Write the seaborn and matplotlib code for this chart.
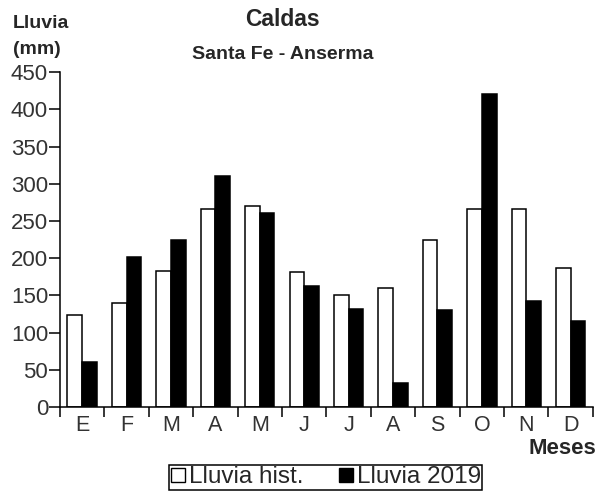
import pandas as pd
import seaborn as sns
import matplotlib.pyplot as plt
from matplotlib.lines import Line2D

# Datos (mm)
meses = ["Ene", "Feb", "Mar", "Abr", "May", "Jun", "Jul", "Ago", "Sep", "Oct", "Nov", "Dic"]
etiquetas = ["E", "F", "M", "A", "M", "J", "J", "A", "S", "O", "N", "D"]
lluvia_hist = [124, 140, 183, 266, 270, 181, 151, 160, 224, 266, 266, 187]
lluvia_2019 = [60, 202, 225, 310, 261, 162, 132, 32, 131, 420, 142, 115]
series = ["Lluvia hist.", "Lluvia 2019"]
y_ticks = [0, 50, 100, 150, 200, 250, 300, 350, 400, 450]


def main():
    sns.set_style("ticks")
    plt.rcParams["font.family"] = ["Liberation Sans", "DejaVu Sans"]

    df = pd.DataFrame({
        "mes": meses * 2,
        "lluvia": lluvia_hist + lluvia_2019,
        "serie": [series[0]] * len(meses) + [series[1]] * len(meses),
    })

    fig = plt.figure(figsize=(6.05, 4.94), dpi=100)
    ax = fig.add_axes([0.099, 0.176, 0.881, 0.678])

    sns.barplot(data=df, x="mes", y="lluvia", hue="serie", order=meses, hue_order=series,
                palette=["white", "black"], edgecolor="black", linewidth=1.1,
                width=0.66, errorbar=None, legend=False, ax=ax)

    ax.set_xlim(-0.5, len(meses) - 0.5)
    ax.set_ylim(0, 450)
    ax.set_yticks(y_ticks)
    ax.set_xticks(range(len(meses)))
    ax.set_xticklabels(etiquetas)
    ax.set_xticks([i - 0.5 for i in range(len(meses) + 1)], minor=True)
    ax.tick_params(axis="x", which="major", length=0, pad=6, labelsize=15.5, labelcolor="#333333")
    ax.tick_params(axis="x", which="minor", length=7, width=1.1, color="black")
    ax.tick_params(axis="y", length=8, width=1.1, pad=0.5, labelsize=16, labelcolor="#333333", color="black")
    ax.set_xlabel("")
    ax.set_ylabel("")
    for s in ["left", "bottom"]:
        ax.spines[s].set_linewidth(1.1)
        ax.spines[s].set_color("black")
    sns.despine(ax=ax)

    fig.text(0.467, 0.961, "Caldas", ha="center", va="center", fontsize=16.5, fontweight="bold")
    fig.text(0.467, 0.889, "Santa Fe - Anserma", ha="center", va="center", fontsize=14, fontweight="bold")
    fig.text(0.021, 0.953, "Lluvia", ha="left", va="center", fontsize=14, fontweight="bold")
    fig.text(0.021, 0.900, "(mm)", ha="left", va="center", fontsize=14, fontweight="bold")
    fig.text(0.873, 0.093, "Meses", ha="left", va="center", fontsize=16, fontweight="bold")

    handles = [
        Line2D([], [], marker="s", linestyle="", markerfacecolor="white", markeredgecolor="black",
               markersize=10.5, markeredgewidth=1),
        Line2D([], [], marker="s", linestyle="", markerfacecolor="black", markeredgecolor="black",
               markersize=10.5),
    ]
    leg = fig.legend(handles, series, loc="center", bbox_to_anchor=(0.538, 0.0335), ncol=2,
                     fontsize=17.5, frameon=True, fancybox=False, framealpha=1, edgecolor="black",
                     handlelength=0.7, handletextpad=0.1, columnspacing=1.4, borderpad=0.05,
                     borderaxespad=0)
    leg.get_frame().set_linewidth(1.1)

    fig.savefig("out.png", dpi=100)


if __name__ == "__main__":
    main()
